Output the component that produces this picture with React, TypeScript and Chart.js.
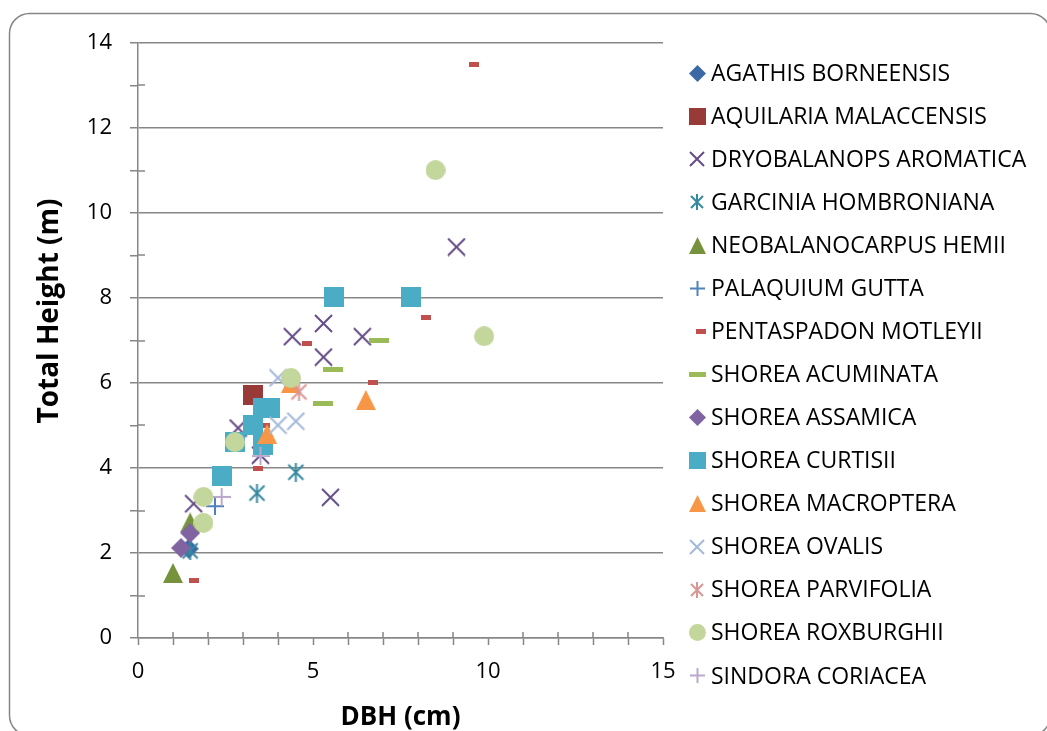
import React, { useEffect, useRef } from "react";
import { Chart, registerables } from "chart.js";

Chart.register(...registerables);

// ---------- data ----------
const seriesNames = [
  "AGATHIS BORNEENSIS",
  "AQUILARIA MALACCENSIS",
  "DRYOBALANOPS AROMATICA",
  "GARCINIA HOMBRONIANA",
  "NEOBALANOCARPUS HEMII",
  "PALAQUIUM GUTTA",
  "PENTASPADON MOTLEYII",
  "SHOREA ACUMINATA",
  "SHOREA ASSAMICA",
  "SHOREA CURTISII",
  "SHOREA MACROPTERA",
  "SHOREA OVALIS",
  "SHOREA PARVIFOLIA",
  "SHOREA ROXBURGHII",
  "SINDORA CORIACEA",
];

const agathisX = [1.45];
const agathisY = [2.1];
const aquilariaX = [3.29];
const aquilariaY = [5.72];
const dryobalanopsX = [9.1, 4.41, 5.3, 5.3, 6.41, 2.86, 3.5, 5.5, 1.59];
const dryobalanopsY = [9.2, 7.09, 7.4, 6.61, 7.09, 4.94, 4.3, 3.31, 3.16];
const garciniaX = [1.49, 3.4, 4.51];
const garciniaY = [2.05, 3.41, 3.9];
const neobalanocarpusX = [1.0, 1.49];
const neobalanocarpusY = [1.53, 2.72];
const palaquiumX = [2.2];
const palaquiumY = [3.1];
const pentaspadonX = [9.61, 8.23, 6.71, 4.83, 3.63, 3.43, 1.6];
const pentaspadonY = [13.5, 7.53, 6.02, 6.92, 5.0, 4.0, 1.36];
const acuminataX = [6.89, 5.57, 5.29];
const acuminataY = [7.01, 6.31, 5.51];
const assamicaX = [1.23, 1.49];
const assamicaY = [2.12, 2.47];
const curtisiiX = [5.59, 7.79, 3.57, 3.77, 3.29, 2.77, 3.57, 2.4];
const curtisiiY = [8.02, 8.02, 5.41, 5.41, 5.01, 4.61, 4.54, 3.82];
const macropteraX = [6.51, 3.69, 4.37];
const macropteraY = [5.6, 4.8, 6.0];
const ovalisX = [4.0, 4.0, 4.51];
const ovalisY = [6.12, 5.01, 5.1];
const parvifoliaX = [4.6];
const parvifoliaY = [5.79];
const roxburghiiX = [8.5, 9.89, 4.37, 2.77, 1.87, 1.87];
const roxburghiiY = [11.01, 7.1, 6.12, 4.61, 3.32, 2.71];
const sindoraX = [2.39, 3.5];
const sindoraY = [3.32, 4.28];

const seriesX = [agathisX, aquilariaX, dryobalanopsX, garciniaX, neobalanocarpusX, palaquiumX, pentaspadonX, acuminataX, assamicaX, curtisiiX, macropteraX, ovalisX, parvifoliaX, roxburghiiX, sindoraX];
const seriesY = [agathisY, aquilariaY, dryobalanopsY, garciniaY, neobalanocarpusY, palaquiumY, pentaspadonY, acuminataY, assamicaY, curtisiiY, macropteraY, ovalisY, parvifoliaY, roxburghiiY, sindoraY];

const seriesColors = [
  "#3B69A6", "#983A37", "#654C85", "#35899F", "#76923C", "#4F81BD", "#C0504D", "#9BBB59",
  "#8064A2", "#4BACC6", "#F79646", "#A3B9DA", "#D99694", "#C3D69B", "#B9A9CE",
];
const seriesMarkers = [
  "diamond", "square", "x", "asterisk", "triangle", "plus", "dashShort", "dashLong",
  "diamond", "square", "triangle", "x", "asterisk", "circle", "plus",
];

const xTickMax = 15;
const yTickMax = 14;
const xTitle = "DBH (cm)";
const yTitle = "Total Height (m)";

const FONT = "'Open Sans', 'DejaVu Sans', sans-serif";
const GRID = "#878787";

function makeMarker(kind: string, color: string, s: number): HTMLCanvasElement {
  const c = document.createElement("canvas");
  let w = 20, h = 20;
  if (kind === "dashShort") { w = 11; h = 5; }
  if (kind === "dashLong") { w = 20; h = 5; }
  if (kind === "plus") { w = 18; h = 18; }
  if (kind === "x" || kind === "asterisk") { w = 19; h = 19; }
  if (kind === "dashShort" || kind === "dashLong") {
    w = Math.round(w * (kind === "dashLong" ? s : 0.95));
  } else {
    w = Math.round(w * s);
    h = Math.round(h * s);
  }
  c.width = w;
  c.height = h;
  const g = c.getContext("2d")!;
  g.fillStyle = color;
  g.strokeStyle = color;
  g.lineWidth = 2;
  g.lineCap = "butt";
  switch (kind) {
    case "diamond":
      g.beginPath();
      g.moveTo(w / 2, 0);
      g.lineTo(w, h / 2);
      g.lineTo(w / 2, h);
      g.lineTo(0, h / 2);
      g.closePath();
      g.fill();
      break;
    case "square":
      g.fillRect(0, 0, w, h);
      break;
    case "circle":
      g.beginPath();
      g.arc(w / 2, h / 2, w / 2, 0, Math.PI * 2);
      g.fill();
      break;
    case "triangle":
      g.beginPath();
      g.moveTo(w / 2, 0);
      g.lineTo(w, h);
      g.lineTo(0, h);
      g.closePath();
      g.fill();
      break;
    case "x":
      g.beginPath();
      g.moveTo(1, 1);
      g.lineTo(w - 1, h - 1);
      g.moveTo(w - 1, 1);
      g.lineTo(1, h - 1);
      g.stroke();
      break;
    case "asterisk":
      g.beginPath();
      g.moveTo(2, 2);
      g.lineTo(w - 2, h - 2);
      g.moveTo(w - 2, 2);
      g.lineTo(2, h - 2);
      g.moveTo(w / 2, 0);
      g.lineTo(w / 2, h);
      g.stroke();
      break;
    case "plus":
      g.beginPath();
      g.moveTo(0, h / 2);
      g.lineTo(w, h / 2);
      g.moveTo(w / 2, 0);
      g.lineTo(w / 2, h);
      g.stroke();
      break;
    case "dashShort":
    case "dashLong":
      g.fillRect(0, 0, w, h);
      break;
  }
  return c;
}

export default function App() {
  const ref = useRef<HTMLCanvasElement | null>(null);

  useEffect(() => {
    const canvas = ref.current;
    if (!canvas) return;

    const plotMarkers = seriesMarkers.map((k, i) => makeMarker(k, seriesColors[i], 1));
    const legendMarkers = seriesMarkers.map((k, i) => makeMarker(k, seriesColors[i], 0.85));

    const datasets = seriesNames.map((name, i) => ({
      label: name,
      data: seriesX[i].map((x, j) => ({ x, y: seriesY[i][j] })),
      pointStyle: plotMarkers[i] as any,
      pointRadius: 10,
      pointHoverRadius: 10,
      showLine: false,
      backgroundColor: seriesColors[i],
      borderColor: seriesColors[i],
      order: seriesNames.length - i,
      clip: false as any,
    }));

    const framePlugin = {
      id: "frame",
      beforeDraw(chart: any) {
        const ctx = chart.ctx;
        ctx.save();
        ctx.fillStyle = "#ffffff";
        ctx.fillRect(0, 0, chart.width, chart.height);
        ctx.strokeStyle = "#868686";
        ctx.lineWidth = 1.5;
        ctx.beginPath();
        (ctx as any).roundRect(9.5, 13.5, 1041, 722, 20);
        ctx.stroke();
        ctx.restore();
      },
    };

    const extrasPlugin = {
      id: "extras",
      afterDraw(chart: any) {
        const ctx = chart.ctx;
        const xs = chart.scales.x;
        const ys = chart.scales.y;
        const area = chart.chartArea;
        ctx.save();
        // inner halves of minor tick marks
        ctx.strokeStyle = GRID;
        ctx.lineWidth = 1.5;
        ctx.beginPath();
        for (let v = 1; v < yTickMax; v += 2) {
          const py = Math.round(ys.getPixelForValue(v));
          ctx.moveTo(area.left, py);
          ctx.lineTo(area.left + 7, py);
        }
        for (let v = 1; v < xTickMax; v++) {
          if (v % 5 === 0) continue;
          const px = Math.round(xs.getPixelForValue(v));
          ctx.moveTo(px, area.bottom);
          ctx.lineTo(px, area.bottom - 6);
        }
        ctx.stroke();

        // y axis title
        ctx.fillStyle = "#000";
        ctx.font = `bold 28px ${FONT}`;
        ctx.textAlign = "center";
        ctx.textBaseline = "middle";
        ctx.translate(50, 311);
        ctx.rotate(-Math.PI / 2);
        ctx.fillText(yTitle, 0, 0);
        ctx.restore();

        // legend
        ctx.save();
        ctx.font = `23px ${FONT}`;
        ctx.fillStyle = "#000";
        ctx.textAlign = "left";
        ctx.textBaseline = "middle";
        const y0 = 73;
        const dy = 43.07;
        seriesNames.forEach((name, i) => {
          const cy = y0 + i * dy;
          const m = legendMarkers[i];
          const cx = seriesMarkers[i] === "dashShort" ? 701 : 697;
          ctx.drawImage(m, Math.round(cx - m.width / 2), Math.round(cy - m.height / 2));
          ctx.fillText(name, 711, cy + 1);
        });
        ctx.restore();
      },
    };

    const chart = new Chart(canvas, {
      type: "scatter",
      data: { datasets },
      options: {
        animation: false,
        responsive: false,
        events: [],
        layout: { padding: { left: 0, top: 43, right: 384, bottom: 0 } },
        plugins: {
          legend: { display: false },
          tooltip: { enabled: false },
        },
        scales: {
          x: {
            type: "linear",
            min: 0,
            max: xTickMax,
            afterFit: (s: any) => { s.height = 93; },
            ticks: {
              stepSize: 1,
              autoSkip: false,
              maxRotation: 0,
              padding: 14,
              color: "#000",
              font: { family: FONT, size: 22 },
              callback: (v: any) => (Number(v) % 5 === 0 ? String(v) : ""),
            },
            grid: {
              drawOnChartArea: false,
              tickLength: 7,
              tickColor: GRID,
              tickWidth: 1.5,
            },
            border: { display: true, color: GRID, width: 1.5 },
            title: {
              display: true,
              text: xTitle,
              color: "#000",
              font: { family: FONT, size: 26, weight: "bold" },
              padding: { top: 0, bottom: -2.6 },
            },
          },
          y: {
            type: "linear",
            min: 0,
            max: yTickMax,
            afterFit: (s: any) => { s.width = 138; },
            ticks: {
              stepSize: 1,
              autoSkip: false,
              padding: 18,
              color: "#000",
              font: { family: FONT, size: 22 },
              callback: (v: any) => (Number(v) % 2 === 0 ? String(v) : ""),
            },
            grid: {
              color: (c: any) => (c.tick && c.tick.value % 2 === 0 ? GRID : "rgba(0,0,0,0)"),
              lineWidth: 1.5,
              tickLength: 8,
              tickColor: GRID,
              tickWidth: 1.5,
            },
            border: { display: true, color: GRID, width: 1.5 },
            title: { display: false },
          },
        },
      },
      plugins: [framePlugin, extrasPlugin],
    } as any);

    return () => chart.destroy();
  }, []);

  return (
    <div style={{ position: "absolute", left: 0, top: 0, width: 1047, height: 731 }}>
      <canvas ref={ref} width={1047} height={731} style={{ display: "block", width: 1047, height: 731 }} />
    </div>
  );
}
